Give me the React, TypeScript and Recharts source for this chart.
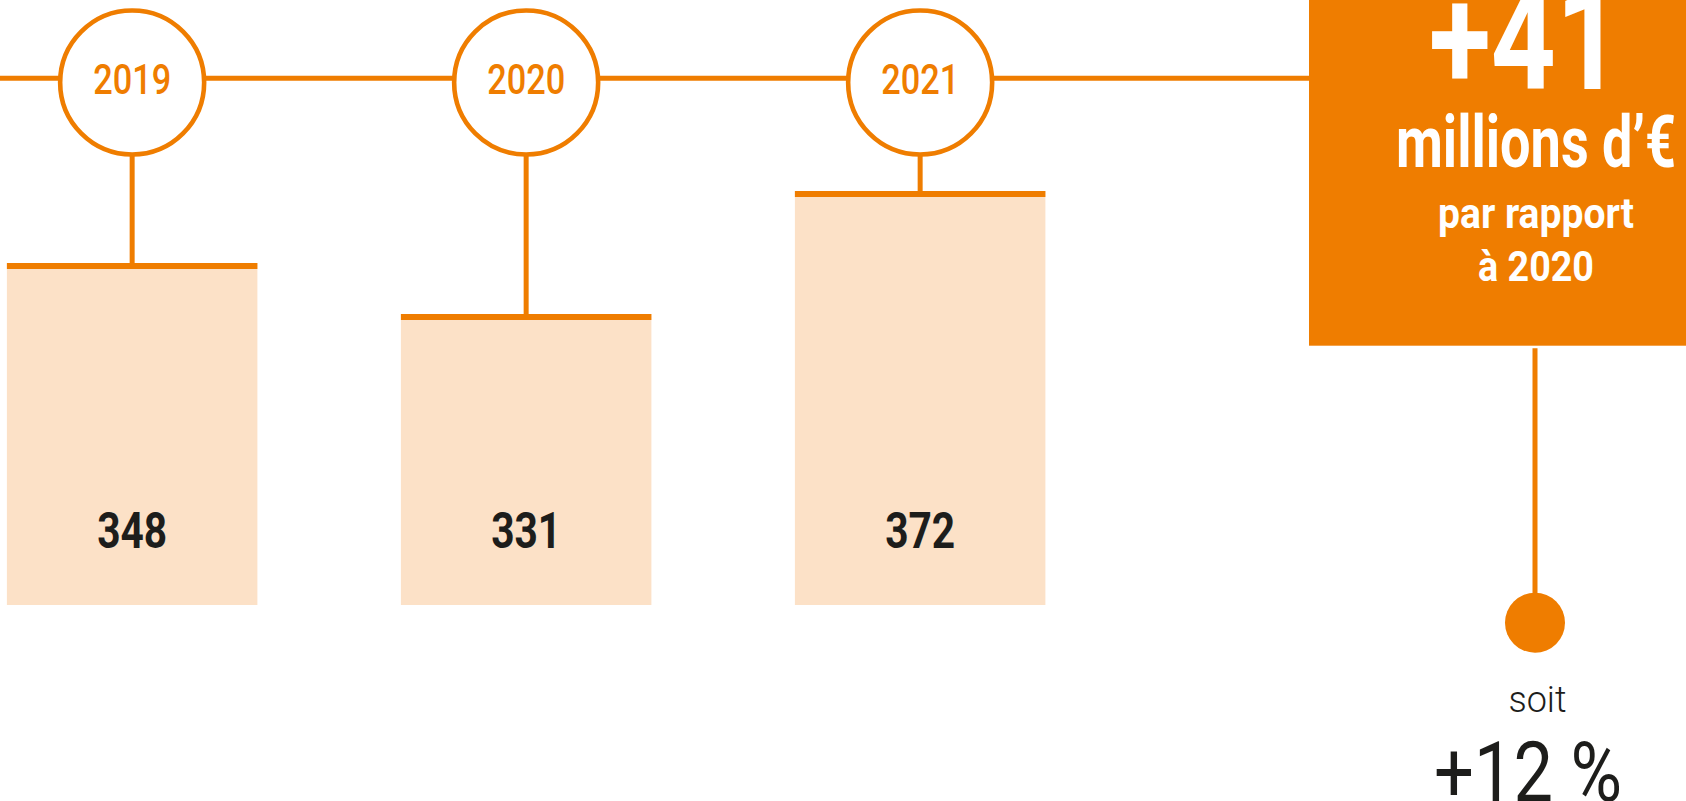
import React from 'react';
import { ComposedChart, Bar, XAxis, YAxis, LabelList, Customized } from 'recharts';

// ---------------- data ----------------
const years: string[] = ['2019', '2020', '2021'];
const revenue: number[] = [348, 331, 372]; // millions d'€
const deltaUnitLabel = 'millions d’€';
const deltaCompareLines: string[] = ['par rapport', 'à 2020'];
const pctIntro = 'soit';

const data = years.map((year, i) => ({ year, value: revenue[i] }));
const delta = revenue[2] - revenue[1];
const pct = Math.round((delta / revenue[1]) * 100);

// ---------------- styles / layout ----------------
const W = 1686;
const H = 801;
const ORANGE = '#EF7D00';
const PEACH = '#FCE1C7';
const INK = '#1D1D1B';
const FONT = 'Roboto, "Noto Sans", sans-serif';

const LINE_Y = 78.3;
const CIRCLE_CY = 82.5;
const CIRCLE_R = 72;
const BOX_X = 1309;
const BOX_H = 345.7;
const DOT_X = 1535;
const DOT_Y = 622.7;

const BarShape = (props: any) => {
  const { x, y, width, height } = props;
  const cx = x + width / 2;
  return (
    <g>
      <line x1={cx} x2={cx} y1={CIRCLE_CY + CIRCLE_R} y2={y + 3} stroke={ORANGE} strokeWidth={5} />
      <rect x={x} y={y} width={width} height={height} fill={PEACH} />
      <rect x={x} y={y} width={width} height={6} fill={ORANGE} />
    </g>
  );
};

const YearMarker = (props: any) => {
  const vb = props.viewBox ?? props;
  const cx = vb.x + vb.width / 2;
  const first = props.index === 0;
  return (
    <g>
      {first && (
        <line x1={0} x2={BOX_X} y1={LINE_Y} y2={LINE_Y} stroke={ORANGE} strokeWidth={5} />
      )}
      <circle cx={cx} cy={CIRCLE_CY} r={CIRCLE_R} fill="#fff" stroke={ORANGE} strokeWidth={4.6} />
      <text
        x={cx}
        y={94}
        fill={ORANGE}
        fontFamily={FONT}
        fontSize={43}
        fontWeight={500}
        textAnchor="middle"
        textLength={78}
        lengthAdjust="spacingAndGlyphs"
      >
        {props.value}
      </text>
    </g>
  );
};

const ValueLabel = (props: any) => {
  const vb = props.viewBox ?? props;
  const cx = vb.x + vb.width / 2;
  return (
    <text
      x={cx}
      y={547.7}
      fill={INK}
      fontFamily={FONT}
      fontSize={50}
      fontWeight={700}
      textAnchor="middle"
      textLength={70}
      lengthAdjust="spacingAndGlyphs"
    >
      {props.value}
    </text>
  );
};

const Annotation = () => (
  <g>
    <rect x={BOX_X} y={0} width={W - BOX_X} height={BOX_H} fill={ORANGE} />
    <text
      x={1525}
      y={89.3}
      fill="#fff"
      fontFamily={FONT}
      fontSize={145}
      fontWeight={700}
      textAnchor="middle"
      textLength={192}
      lengthAdjust="spacingAndGlyphs"
    >
      {`+${delta}`}
    </text>
    <text
      x={1536}
      y={166.7}
      fill="#fff"
      fontFamily={FONT}
      fontSize={72}
      fontWeight={700}
      textAnchor="middle"
      textLength={280}
      lengthAdjust="spacingAndGlyphs"
    >
      {deltaUnitLabel}
    </text>
    <text
      x={1536}
      y={227.7}
      fill="#fff"
      fontFamily={FONT}
      fontSize={43}
      fontWeight={700}
      textAnchor="middle"
      textLength={196}
      lengthAdjust="spacingAndGlyphs"
    >
      {deltaCompareLines[0]}
    </text>
    <text
      x={1536}
      y={281}
      fill="#fff"
      fontFamily={FONT}
      fontSize={43}
      fontWeight={700}
      textAnchor="middle"
      textLength={116}
      lengthAdjust="spacingAndGlyphs"
    >
      {deltaCompareLines[1]}
    </text>
    <line x1={DOT_X} x2={DOT_X} y1={348.3} y2={DOT_Y} stroke={ORANGE} strokeWidth={5} />
    <circle cx={DOT_X} cy={DOT_Y} r={30} fill={ORANGE} />
    <text
      x={1537.5}
      y={711.7}
      fill={INK}
      fontFamily={FONT}
      fontSize={36}
      fontWeight={300}
      textAnchor="middle"
    >
      {pctIntro}
    </text>
    <text
      x={1434}
      y={801}
      fill={INK}
      fontFamily={FONT}
      fontSize={84}
      fontWeight={400}
      textLength={188}
      lengthAdjust="spacingAndGlyphs"
    >
      {`+${pct} %`}
    </text>
  </g>
);

export default function App() {
  return (
    <div style={{ position: 'absolute', left: 0, top: 0, width: W, height: H, background: '#fff', fontFamily: FONT }}>
      <ComposedChart
        width={W}
        height={H}
        data={data}
        margin={{ top: 5, right: 569.1, bottom: 196, left: -65.1 }}
      >
        <XAxis dataKey="year" hide />
        <YAxis hide type="number" domain={[234, 434]} allowDataOverflow />
        <Customized component={Annotation} />
        <Bar dataKey="value" barSize={250.5} shape={BarShape} isAnimationActive={false}>
          <LabelList dataKey="year" content={YearMarker} />
          <LabelList dataKey="value" content={ValueLabel} />
        </Bar>
      </ComposedChart>
    </div>
  );
}
